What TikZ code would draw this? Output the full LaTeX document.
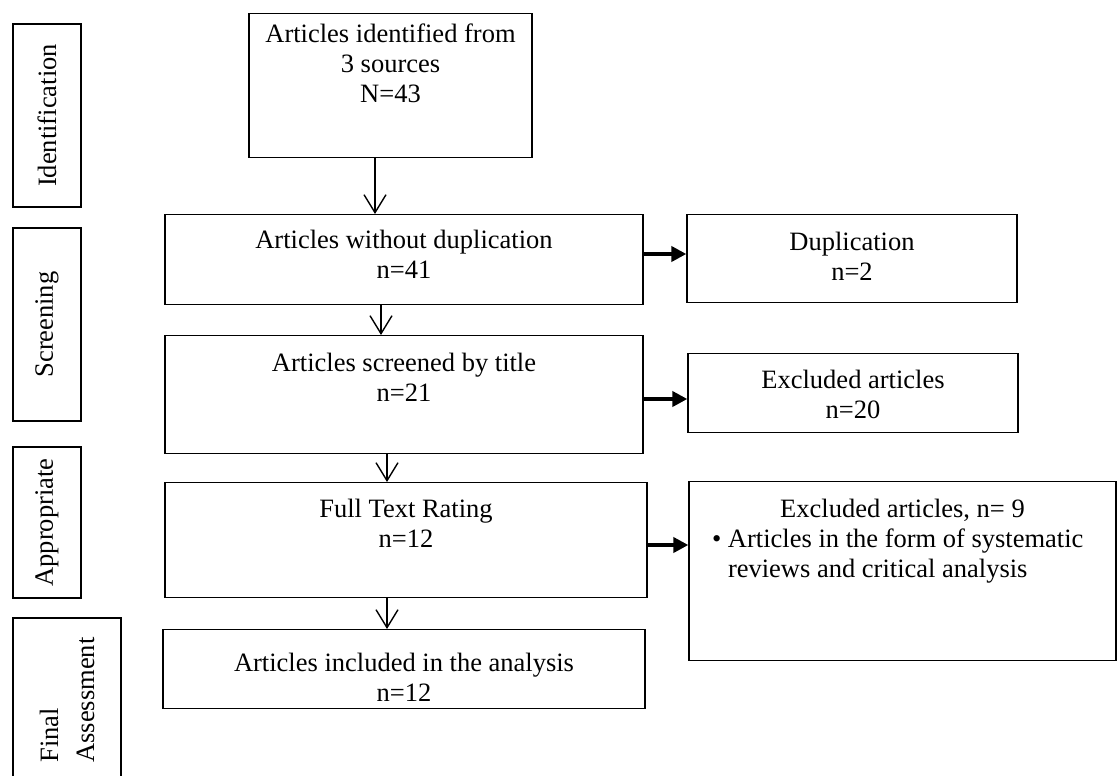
\documentclass[tikz,border=0pt]{standalone}
\usepackage{fontspec}
\setmainfont{Liberation Serif}
\usetikzlibrary{arrows.meta}
\newcommand{\boxfont}{\fontsize{13.25pt}{15pt}\selectfont}
\tikzset{
  stagebox/.style={draw,line width=0.65pt,align=center,inner xsep=0pt,inner ysep=0pt,anchor=north,font=\boxfont},
  phasebox/.style={draw,line width=0.65pt,rotate=90,align=center,inner sep=0pt,font=\boxfont},
  flow/.style={line width=0.7pt,-{Straight Barb[length=9pt,width=11pt]}},
  push/.style={line width=2pt,-{Triangle[length=7.5pt,width=7.5pt]}}
}
\begin{document}
\begin{tikzpicture}[x=0.5pt,y=-0.5pt]
  \useasboundingbox (0,0) rectangle (1117,775);
  \node[phasebox,minimum width=91.5pt,minimum height=34pt] (pident) at (47,115.5) {Identification};
  \node[phasebox,minimum width=96.5pt,minimum height=34pt] (pscreen) at (47,324.5) {Screening};
  \node[phasebox,minimum width=75.5pt,minimum height=34pt] (pappr) at (47,522.5) {Appropriate};
  \node[phasebox,minimum width=82pt,minimum height=54pt,align=left,font=\fontsize{13.25pt}{18pt}\selectfont] (pfinal) at (67,700) {Final\\Assessment};
  \node[stagebox,minimum width=141.5pt,text height=44.5pt,text depth=27.5pt] (ident) at (390.5,13) {Articles identified from\\3 sources\\N=43};
  \node[stagebox,minimum width=239pt,text height=32pt,text depth=13pt] (nodup) at (404,214) {Articles without duplication\\n=41};
  \node[stagebox,minimum width=239pt,text height=33pt,text depth=26pt] (title) at (404,335) {Articles screened by title\\n=21};
  \node[stagebox,minimum width=241pt,text height=32.5pt,text depth=25pt] (full) at (406,482) {Full Text Rating\\n=12};
  \node[stagebox,minimum width=241pt,text height=36pt,text depth=3.5pt] (incl) at (404,629) {Articles included in the analysis\\n=12};
  \node[stagebox,minimum width=165pt,text height=33pt,text depth=11pt] (dup) at (852,214) {Duplication\\n=2};
  \node[stagebox,minimum width=165pt,text height=32.5pt,text depth=7pt] (excl20) at (853,353) {Excluded articles\\n=20};
  \node[stagebox,align=left,minimum width=213.5pt,text height=48pt,text depth=41.5pt] (excl9) at (902.5,481) {\makebox[190.5pt]{Excluded articles, n= 9}\\\makebox[8pt][l]{\textbullet}Articles in the form of systematic\\\hspace*{8pt}reviews and critical analysis};
  \draw[flow] (ident.south -| 375,0) -- (nodup.north -| 375,0);
  \draw[flow] (nodup.south -| 381,0) -- (title.north -| 381,0);
  \draw[flow] (title.south -| 387,0) -- (full.north -| 387,0);
  \draw[flow] (full.south -| 387,0) -- (incl.north -| 387,0);
  \draw[push] (nodup.east |- 0,254) -- (dup.west |- 0,254);
  \draw[push] (title.east |- 0,399) -- (excl20.west |- 0,399);
  \draw[push] (full.east |- 0,545) -- (excl9.west |- 0,545);
\end{tikzpicture}
\end{document}
